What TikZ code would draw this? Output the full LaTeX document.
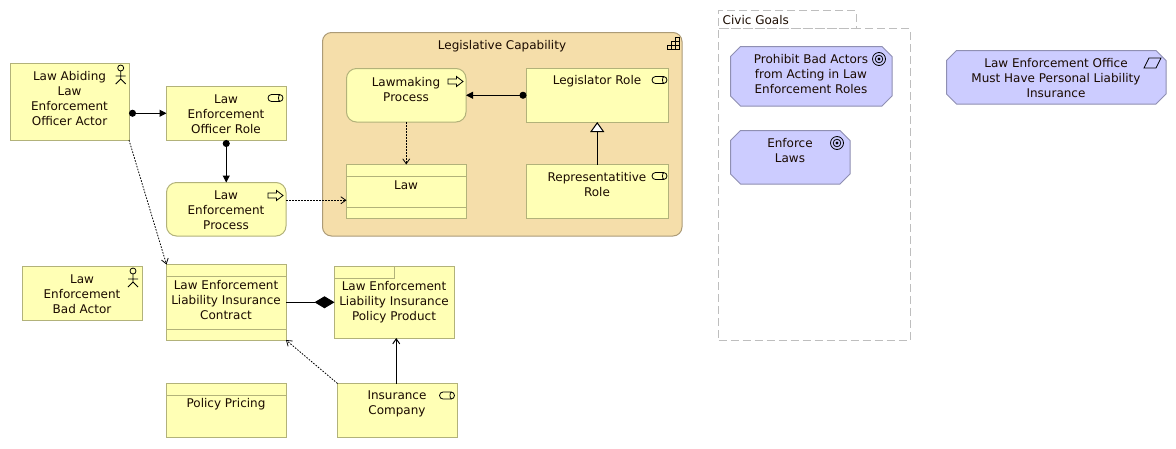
\documentclass[tikz,border=0pt]{standalone}
\usepackage{fontspec}
\setmainfont{DejaVu Sans}
\usetikzlibrary{arrows.meta,calc}
\definecolor{appyellow}{HTML}{FFFFB5}
\definecolor{appedge}{HTML}{B2B27A}
\definecolor{capfill}{HTML}{F5DEAA}
\definecolor{capedge}{HTML}{AC9B77}
\definecolor{goalfill}{HTML}{CCCCFF}
\definecolor{goaledge}{HTML}{8F8FB2}
\definecolor{groupedge}{HTML}{BEBEBE}
\definecolor{txt}{HTML}{1A0A00}
\newcommand{\goalpoly}[1]{%
  \draw[goalshape] ([xshift=10pt]#1.north west) -- ([xshift=-10pt]#1.north east)
    -- ([yshift=-10pt]#1.north east) -- ([yshift=10pt]#1.south east)
    -- ([xshift=-10pt]#1.south east) -- ([xshift=10pt]#1.south west)
    -- ([yshift=10pt]#1.south west) -- ([yshift=-10pt]#1.north west) -- cycle;}
\tikzset{
  x=1pt,y=-1pt,
  base/.style={draw=appedge,fill=appyellow,line width=1pt,inner sep=0pt,outer sep=0pt},
  sized/.style 2 args={minimum width={(#1-0.5)*1pt},minimum height={(#2-0.5)*1pt},xshift=.25pt,yshift=-.25pt},
  plainbox/.style={base,rectangle},
  procbox/.style={base,rectangle,rounded corners=10pt},
  capbox/.style={base,rectangle,rounded corners=9pt,draw=capedge,fill=capfill},
  goalbox/.style={rectangle,inner sep=0pt,outer sep=0pt},
  goalshape/.style={draw=goaledge,fill=goalfill,line width=1pt},
  groupbox/.style={draw=groupedge,line width=1pt,dash pattern=on 8pt off 4pt,rectangle,inner sep=0pt,outer sep=0pt},
  lbl/.style={font=\fontsize{12}{15}\selectfont,align=center,text=txt,inner sep=0pt,yshift=-1pt},
  sep/.style={draw=appedge,line width=1pt},
  icon/.style={draw=black,line width=.8pt,fill=none},
  flow/.style={draw=black,line width=1pt,{Circle[length=7pt,width=7pt]}-{Triangle[length=7pt,width=7pt]}},
  access/.style={draw=black,line width=.8pt,dash pattern=on 1.6pt off 1.4pt,-{Straight Barb[length=5pt,width=7pt]}},
  solidopen/.style={draw=black,line width=1pt,-{Straight Barb[length=5pt,width=7pt]}},
  special/.style={draw=black,line width=1pt,-{Triangle[open,fill=white,length=10pt,width=14pt]}},
  compose/.style={draw=black,line width=1pt,-{Diamond[length=20pt,width=12pt]}},
  actoricon/.pic={
    \draw[icon] (0,-5) circle[radius=3pt];
    \draw[icon] (0,-2) -- (0,6) (-5,3) -- (5,3) (-5,11) -- (0,6) -- (5,11);
  },
  roleicon/.pic={
    \draw[icon,rounded corners=3.5pt] (-7.5,-3.5) rectangle (7.5,3.5);
    \draw[icon] (4.5,-3.5) .. controls (2.5,-3.5) and (2.5,3.5) .. (4.5,3.5);
  },
  processicon/.pic={
    \draw[icon,line join=miter] (-7.5,-2.5) -- (1,-2.5) -- (1,-5) -- (7.5,0) -- (1,5) -- (1,2.5) -- (-7.5,2.5) -- cycle;
  },
  goalicon/.pic={
    \draw[icon] (0,0) circle[radius=6.5pt];
    \draw[icon] (0,0) circle[radius=3.8pt];
    \fill[black] (0,0) circle[radius=1.7pt];
  },
  capicon/.pic={
    \draw[icon] (-6,6) rectangle (6,2) (-2,6) rectangle (6,-2) (2,6) rectangle (6,-6) (-2,2) -- (-2,6) (2,2) -- (2,6);
  },
  drivericon/.pic={
    \draw[icon] (-8.5,5) -- (-3.5,-5) -- (8.5,-5) -- (3.5,5) -- cycle;
  },
}
\begin{document}
\begin{tikzpicture}
\useasboundingbox (0,0) rectangle (1176,448);

% Container
\node[capbox,sized={360}{204}] (cap) at (502,134) {};
\node[lbl] (capt) at (502,45) {Legislative Capability};
\pic at (673,43.5) {capicon};

% Grouping
\node[groupbox,sized={138}{18}] (grouptab) at (787,19) {};
\node[groupbox,sized={192}{312},fill=white] (group) at (814,184) {};
\node[lbl,anchor=west] (groupt) at (722.5,19.5) {Civic Goals};

% Left column
\node[plainbox,sized={119}{77}] (actor) at (69.5,101.5) {};
\node[lbl] (actort) at (69.5,98) {Law Abiding\\Law\\Enforcement\\Officer Actor};
\pic at (120.7,73) {actoricon};

\node[plainbox,sized={120}{54}] (role) at (226,113) {};
\node[lbl] (rolet) at (226,113) {Law\\Enforcement\\Officer Role};
\pic at (275.5,98) {roleicon};

\node[procbox,sized={120}{54}] (process) at (226,209) {};
\node[lbl] (processt) at (226,209) {Law\\Enforcement\\Process};
\pic at (275.5,195.5) {processicon};

% Capability content
\node[procbox,sized={120}{54}] (lawmaking) at (406,95) {};
\node[lbl] (lawmakingt) at (406,88.5) {Lawmaking\\Process};
\pic at (455.5,81.5) {processicon};

\node[plainbox,sized={142}{54}] (legislator) at (597,95) {};
\node[lbl] (legislatort) at (597,80.5) {Legislator Role};
\pic at (659.5,80) {roleicon};

\node[plainbox,sized={120}{54}] (law) at (406,191) {};
\node[lbl] (lawt) at (406,184.5) {Law};
\draw[sep] ([yshift=-12pt]law.north west) -- ([yshift=-12pt]law.north east);
\draw[sep] ([yshift=11pt]law.south west) -- ([yshift=11pt]law.south east);

\node[plainbox,sized={142}{54}] (rep) at (597,191) {};
\node[lbl] (rept) at (597,184) {Representatitive\\Role};
\pic at (659.5,176) {roleicon};

% Goals
\node[goalbox,sized={162}{60}] (prohibit) at (811,76) {};
\goalpoly{prohibit}
\node[lbl] (prohibitt) at (811,73.5) {Prohibit Bad Actors\\from Acting in Law\\Enforcement Roles};
\pic at (879,59) {goalicon};

\node[goalbox,sized={120}{54}] (enforce) at (790,157) {};
\goalpoly{enforce}
\node[lbl] (enforcet) at (790,150) {Enforce\\Laws};
\pic at (837,143) {goalicon};

\node[goalbox,sized={220}{54}] (office) at (1056,77) {};
\goalpoly{office}
\node[lbl] (officet) at (1056,77.5) {Law Enforcement Office\\Must Have Personal Liability\\Insurance};
\pic at (1152.5,63) {drivericon};

% Lower part
\node[plainbox,sized={120}{54}] (bad) at (82,293) {};
\node[lbl] (badt) at (82,293) {Law\\Enforcement\\Bad Actor};
\pic at (133,276) {actoricon};

\node[plainbox,sized={120}{76}] (contract) at (226,302) {};
\node[lbl] (contractt) at (226,299) {Law Enforcement\\Liability Insurance\\Contract};
\draw[sep] ([yshift=-12pt]contract.north west) -- ([yshift=-12pt]contract.north east);
\draw[sep] ([yshift=11pt]contract.south west) -- ([yshift=11pt]contract.south east);

\node[plainbox,sized={120}{72}] (product) at (394,302) {};
\node[lbl] (productt) at (394,301) {Law Enforcement\\Liability Insurance\\Policy Product};
\draw[sep] ([yshift=-12pt]product.north west) -| (product.north);

\node[plainbox,sized={120}{54}] (pricing) at (226,410) {};
\node[lbl] (pricingt) at (226,403.5) {Policy Pricing};
\draw[sep] ([yshift=-12pt]pricing.north west) -- ([yshift=-12pt]pricing.north east);

\node[plainbox,sized={120}{54}] (insurance) at (397,410) {};
\node[lbl] (insurancet) at (397,403) {Insurance\\Company};
\pic at (447,395.5) {roleicon};

% Connectors
\draw[flow] (actor.east |- role.west) -- (role.west);
\draw[flow] (role.south) -- (process.north);
\draw[flow] (legislator.west) -- (lawmaking.east);
\draw[access] (actor.south east) -- (contract.north west);
\draw[access] ([yshift=9pt]process.east) -- ([yshift=-9pt]law.west);
\draw[access] (lawmaking.south) -- (law.north);
\draw[special] (rep.north) -- (legislator.south);
\draw[compose,fill=black] (contract.east) -- (product.west);
\draw[solidopen] ([xshift=-1pt]insurance.north) -- ([xshift=2pt]product.south);
\draw[access] (insurance.north west) -- (contract.south east);
\end{tikzpicture}
\end{document}
